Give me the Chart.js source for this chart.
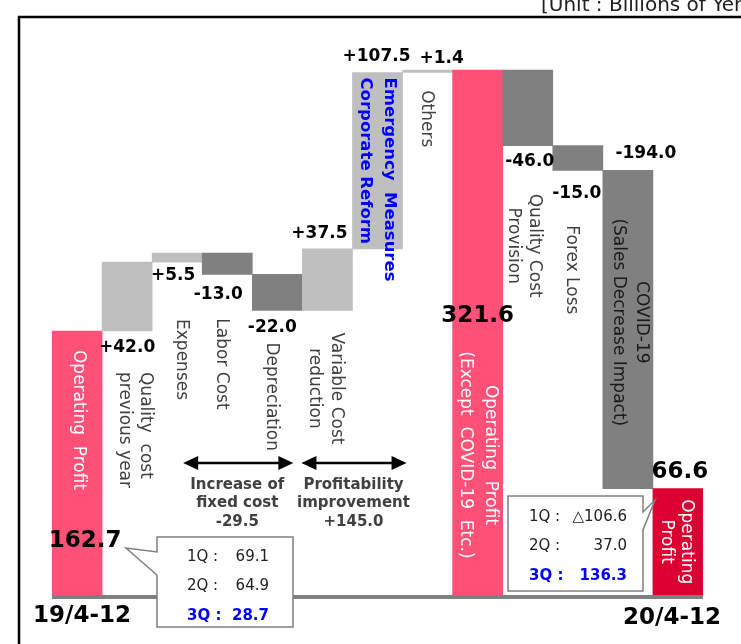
<!DOCTYPE html>
<html>
<head>
<meta charset="utf-8">
<script src="https://cdn.jsdelivr.net/npm/chart.js@4.4.1/dist/chart.umd.min.js"></script>
<style>
  html, body { margin: 0; padding: 0; background: #fff; }
  canvas { display: block; }
</style>
</head>
<body>
<canvas id="c" width="741" height="644"></canvas>
<script>
// ---- data -------------------------------------------------------------
const categories = [
  '19/4-12', 'Quality cost previous year', 'Expenses', 'Labor Cost', 'Depreciation',
  'Variable Cost reduction', 'Emergency Measures Corporate Reform', 'Others',
  'Operating Profit (Except COVID-19 Etc.)', 'Quality Cost Provision', 'Forex Loss',
  'COVID-19 (Sales Decrease Impact)', '20/4-12'
];
// change per step; totals are absolute levels
const changes = [162.7, 42.0, 5.5, -13.0, -22.0, 37.5, 107.5, 1.4, 321.6, -46.0, -15.0, -194.0, 66.6];
const isTotal = [true, false, false, false, false, false, false, false, true, false, false, false, true];
const periodLabels = ['19/4-12', '20/4-12'];
const quarters19 = [69.1, 64.9, 28.7];
const quarters20 = [-106.6, 37.0, 136.3];
const quarterNames = ['1Q', '2Q', '3Q'];
const groupFixedCost = -29.5;
const groupProfitability = 145.0;
const unitText = '[Unit : Billions of Yen]';

// ---- waterfall ranges ---------------------------------------------------
let level = 0;
const ranges = changes.map((v, i) => {
  if (isTotal[i]) { level = v; return [0, v]; }
  const start = level;
  level += v;
  return [start, level];
});

// ---- styling ------------------------------------------------------------
const PINK = '#FF5078', CRIMSON = '#DC0032', DARK = '#808080', LIGHT = '#BFBFBF';
const barColors = [PINK, LIGHT, LIGHT, DARK, DARK, LIGHT, LIGHT, LIGHT, PINK, DARK, DARK, DARK, CRIMSON];
const FONT = '"DejaVu Sans", Verdana, sans-serif';
const TEXT_GREY = '#404040';

const fmtChange = (v, i) => isTotal[i] ? v.toFixed(1) : (v > 0 ? '+' : '') + v.toFixed(1);
const fmtQuarter = v => v < 0 ? '\u25B3' + Math.abs(v).toFixed(1) : v.toFixed(1);

// value label placement: offset from bar centre, anchored edge, vertical offset
const valueLayout = [
  { dx: 8,  at: 'zero',   dy: -57, big: true },
  { dx: 0,  at: 'bottom', dy: 17 },
  { dx: -4, at: 'bottom', dy: 14 },
  { dx: -9, at: 'bottom', dy: 20 },
  { dx: -5, at: 'bottom', dy: 17 },
  { dx: -8, at: 'top',    dy: -15 },
  { dx: -1, at: 'top',    dy: -16 },
  { dx: 14, at: 'top',    dy: -12 },
  { dx: 0,  at: 'zero',   dy: -282, big: true },
  { dx: 2,  at: 'bottom', dy: 16 },
  { dx: -1, at: 'bottom', dy: 23 },
  { dx: 18, at: 'top',    dy: -17 },
  { dx: 2,  at: 'top',    dy: -17, big: true }
];

// rotated category captions (read top to bottom)
const captionLayout = [
  { lines: ['Operating  Profit'], dx: 1, at: 'top', dy: 19, align: 'start', color: '#fff' },
  { lines: ['Quality  cost', 'previous year'], dx: 8, at: 'bottom', dy: 41, align: 'start', gap: 21.5 },
  { lines: ['Expenses'], dx: 4, at: 'bottom', dy: 57, align: 'start' },
  { lines: ['Labor Cost'], dx: -6, at: 'bottom', dy: 44, align: 'start' },
  { lines: ['Depreciation'], dx: -6, at: 'bottom', dy: 32, align: 'start' },
  { lines: ['Variable Cost', 'reduction'], dx: -2, at: 'bottom', dy: 78, align: 'center', gap: 22 },
  { lines: ['Emergency  Measures', 'Corporate Reform'], dx: 0, at: 'top', dy: 5, align: 'start', gap: 23.5, color: '#0000FF', bold: true },
  { lines: ['Others'], dx: -1, at: 'top', dy: 20, align: 'start' },
  { lines: ['Operating  Profit', '(Except  COVID-19  Etc.)'], dx: 0, at: 'zero', dy: -143, align: 'center', gap: 25, color: '#fff' },
  { lines: ['Quality Cost', 'Provision'], dx: -4, at: 'bottom', dy: 100, align: 'center', gap: 21.5 },
  { lines: ['Forex Loss'], dx: -6.5, at: 'bottom', dy: 55, align: 'start' },
  { lines: ['COVID-19', '(Sales Decrease Impact)'], dx: 2, at: 'top', dy: 152, align: 'center', gap: 23.5, color: '#1a1a1a' },
  { lines: ['Operating', 'Profit'], dx: -2, at: 'top', dy: 53, align: 'center', gap: 20, color: '#fff' }
];

const overlay = {
  id: 'overlay',
  beforeDraw(chart) {
    const ctx = chart.ctx;
    ctx.save();
    ctx.fillStyle = '#fff';
    ctx.fillRect(0, 0, chart.width, chart.height);
    // frame
    ctx.strokeStyle = '#000';
    ctx.lineWidth = 2.5;
    ctx.strokeRect(19, 17, 800, 700);
    // unit note
    ctx.fillStyle = '#202020';
    ctx.font = '20px ' + FONT;
    ctx.textAlign = 'left';
    ctx.textBaseline = 'alphabetic';
    ctx.fillText(unitText, 541, 11);
    ctx.restore();
  },
  afterDatasetsDraw(chart) {
    const ctx = chart.ctx;
    const ys = chart.scales.y;
    const meta = chart.getDatasetMeta(0);
    const zeroY = ys.getPixelForValue(0);
    const edge = (i, at) => {
      const r = ranges[i];
      if (at === 'top') return ys.getPixelForValue(Math.max(r[0], r[1]));
      if (at === 'bottom') return ys.getPixelForValue(Math.min(r[0], r[1]));
      return zeroY;
    };
    ctx.save();

    // baseline
    const first = meta.data[0], last = meta.data[meta.data.length - 1];
    ctx.strokeStyle = '#7F7F7F';
    ctx.lineWidth = 4;
    ctx.beginPath();
    ctx.moveTo(first.x - first.width / 2, zeroY - 1);
    ctx.lineTo(last.x + last.width / 2, zeroY - 1);
    ctx.stroke();

    // value labels
    ctx.textAlign = 'center';
    ctx.textBaseline = 'middle';
    ctx.fillStyle = '#000';
    changes.forEach((v, i) => {
      const L = valueLayout[i];
      ctx.font = 'bold ' + (L.big ? 23 : 17) + 'px ' + FONT;
      ctx.fillText(fmtChange(v, i), meta.data[i].x + L.dx, edge(i, L.at) + L.dy);
    });

    // rotated captions
    captionLayout.forEach((C, i) => {
      const gap = C.gap || 22;
      const n = C.lines.length;
      const cx = meta.data[i].x + C.dx;
      const y0 = edge(i, C.at) + C.dy;
      ctx.save();
      ctx.font = (C.bold ? 'bold 16.5px ' : '17px ') + FONT;
      ctx.fillStyle = C.color || TEXT_GREY;
      ctx.translate(cx, y0);
      ctx.rotate(Math.PI / 2);
      ctx.textBaseline = 'middle';
      ctx.textAlign = C.align === 'center' ? 'center' : 'left';
      C.lines.forEach((line, k) => {
        const off = (k - (n - 1) / 2) * gap;
        ctx.fillText(line, 0, off);
      });
      ctx.restore();
    });

    // bracket arrows
    const arrow = (x1, x2, y) => {
      const hl = 15, hw = 7;
      ctx.strokeStyle = '#000';
      ctx.fillStyle = '#000';
      ctx.lineWidth = 2.5;
      ctx.beginPath();
      ctx.moveTo(x1 + hl - 2, y);
      ctx.lineTo(x2 - hl + 2, y);
      ctx.stroke();
      ctx.beginPath();
      ctx.moveTo(x1, y); ctx.lineTo(x1 + hl, y - hw); ctx.lineTo(x1 + hl, y + hw); ctx.closePath();
      ctx.fill();
      ctx.beginPath();
      ctx.moveTo(x2, y); ctx.lineTo(x2 - hl, y - hw); ctx.lineTo(x2 - hl, y + hw); ctx.closePath();
      ctx.fill();
    };
    const arrowY = zeroY - 135;
    arrow(meta.data[2].x + 6, meta.data[4].x + 16, arrowY);
    arrow(meta.data[5].x - 26, meta.data[7].x - 21, arrowY);

    ctx.font = 'bold 15px ' + FONT;
    ctx.fillStyle = TEXT_GREY;
    ctx.textAlign = 'center';
    ctx.textBaseline = 'middle';
    const g1 = meta.data[3].x + 10, g2 = meta.data[6].x - 24;
    ['Increase of', 'fixed cost', groupFixedCost.toFixed(1)].forEach((t, k) =>
      ctx.fillText(t, g1, arrowY + 22 + k * 18.5));
    ['Profitability', 'improvement', '+' + groupProfitability.toFixed(1)].forEach((t, k) =>
      ctx.fillText(t, g2, arrowY + 22 + k * 18.5));

    // quarter callouts
    const callout = (pts) => {
      ctx.beginPath();
      pts.forEach((p, k) => k ? ctx.lineTo(p[0], p[1]) : ctx.moveTo(p[0], p[1]));
      ctx.closePath();
      ctx.fillStyle = '#fff';
      ctx.fill();
      ctx.strokeStyle = '#7F7F7F';
      ctx.lineWidth = 1.5;
      ctx.stroke();
    };
    const quarterRows = (vals, left, right, top, step) => {
      vals.forEach((v, k) => {
        const lastRow = k === vals.length - 1;
        ctx.font = (lastRow ? 'bold ' : '') + '15px ' + FONT;
        ctx.fillStyle = lastRow ? '#0000FF' : '#202020';
        ctx.textBaseline = 'middle';
        ctx.textAlign = 'left';
        ctx.fillText(quarterNames[k] + ' :', left, top + k * step);
        ctx.textAlign = 'right';
        ctx.fillText(fmtQuarter(v), right, top + k * step);
      });
    };
    callout([[157, 537], [293, 537], [293, 627], [157, 627], [157, 575], [126, 548], [157, 552]]);
    quarterRows(quarters19, 187, 269, 557, 29.5);
    callout([[508, 496], [643, 496], [643, 512], [655, 500], [643, 530], [643, 591], [508, 591]]);
    quarterRows(quarters20, 529, 627, 517, 29.5);

    // period labels
    ctx.font = 'bold 23px ' + FONT;
    ctx.fillStyle = '#000';
    ctx.textAlign = 'center';
    ctx.textBaseline = 'middle';
    ctx.fillText(periodLabels[0], meta.data[0].x + 5, zeroY + 18);
    ctx.fillText(periodLabels[1], meta.data[12].x - 6, zeroY + 20);

    ctx.restore();
  }
};

new Chart(document.getElementById('c'), {
  type: 'bar',
  data: {
    labels: categories,
    datasets: [{
      data: ranges,
      backgroundColor: barColors,
      borderWidth: 0,
      borderSkipped: false,
      categoryPercentage: 1.0,
      barPercentage: 1.0
    }]
  },
  options: {
    responsive: false,
    animation: false,
    layout: { padding: { left: 52, right: 38, top: 40, bottom: 46 } },
    plugins: { legend: { display: false }, tooltip: { enabled: false } },
    scales: {
      x: { display: false },
      y: { display: false, min: 0, max: 340 }
    }
  },
  plugins: [overlay]
});
</script>
</body>
</html>
